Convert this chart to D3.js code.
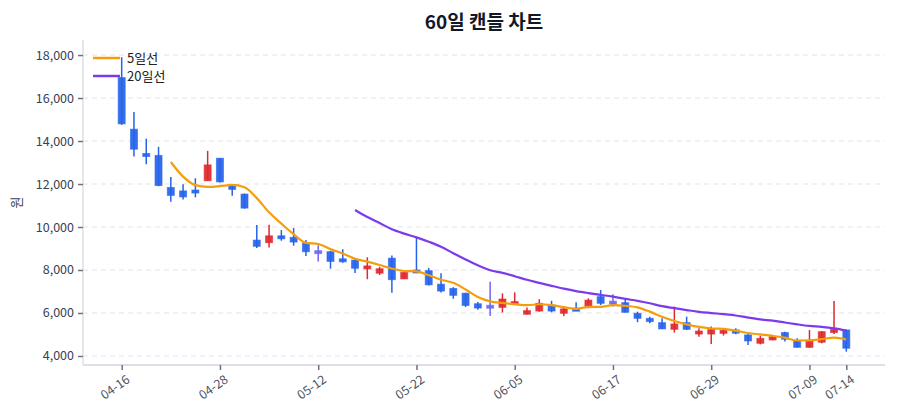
<!DOCTYPE html>
<html><head><meta charset="utf-8">
<script src="https://cdn.jsdelivr.net/npm/d3@7"></script>
<style>
body{margin:0;background:#fff;}
svg{display:block;font-family:"Noto Sans CJK KR","Noto Sans",sans-serif;}
</style></head>
<body><svg id="c" width="900" height="420"></svg>
<script>
const dates = ["04-16","04-17","04-18","04-21","04-22","04-23","04-24","04-25","04-28","04-29",
"04-30","05-01","05-02","05-07","05-08","05-09","05-12","05-13","05-14","05-15",
"05-16","05-19","05-20","05-21","05-22","05-23","05-26","05-27","05-28","05-29",
"05-30","06-02","06-05","06-06","06-09","06-10","06-11","06-12","06-13","06-16",
"06-17","06-18","06-19","06-20","06-23","06-24","06-25","06-26","06-29","06-30",
"07-01","07-02","07-03","07-04","07-07","07-08","07-09","07-10","07-11","07-14"];
const openV = [16950,14550,13420,13330,11840,11680,11720,12150,13200,11960,
11530,9390,9270,9590,9520,9250,8830,8850,8520,8460,
8060,7850,8550,7585,8000,7970,7340,7140,6920,6430,
6290,6260,6450,5940,6090,6370,5985,6220,6250,6760,
6480,6480,5985,5750,5550,5240,5550,5090,5020,5090,
5210,4980,4590,4745,5090,4710,4400,4640,5090,5210];
const highV = [17900,15350,14110,13730,12330,11990,12270,13540,13210,11990,
11560,10090,10100,9860,9950,9390,9150,8890,8970,8510,
8590,8150,8680,7900,9520,8090,7850,7200,6940,6510,
7450,6910,6960,6250,6640,6570,6300,6500,6680,7070,
6870,6640,6060,5830,5750,6300,5830,5290,5370,5290,
5290,5010,4950,4930,5130,4820,5210,5160,6560,5230];
const lowV = [14750,13280,12920,11900,11170,11280,11380,12150,12070,11450,
10850,9020,9050,9360,9130,8650,8390,8060,8340,7860,
7570,7770,6940,7580,7970,7280,6950,6660,6280,6150,
5860,6020,6400,5930,6060,6030,5860,6100,6220,6370,
6300,6020,5570,5520,5250,5090,5210,4900,4560,4950,
5010,4510,4540,4730,4670,4400,4400,4590,5020,4200];
const closeV = [14800,13620,13300,11930,11470,11400,11640,12890,12100,11750,
10880,9100,9590,9470,9300,8850,8830,8400,8440,8080,
8190,8060,7550,7890,7970,7310,7020,6820,6350,6230,
6290,6650,6530,6110,6450,6090,6190,6110,6600,6450,
6480,6030,5750,5600,5260,5490,5240,5160,5240,5190,
5060,4700,4820,4900,4780,4400,4710,5130,5240,4360];
const xTickLabels = ["04-16","04-28","05-12","05-22","06-05","06-17","06-29","07-09","07-14"];
const yTicks = [4000,6000,8000,10000,12000,14000,16000,18000];
const maPeriods = [5, 20];
const maNames = ["5일선","20일선"];
const titleText = "60일 캔들 차트";
const yLabel = "원";

const UP = "#e0282e", DOWN = "#2563eb", FLAT = "#6d68f0";
const maColors = ["#f59e0b", "#7c3aed"];
const L = 83, R = 885, T = 40, B = 365;
const FF = '"Noto Sans CJK KR","Noto Sans",sans-serif';

const svg = d3.select("#c");
const x = d3.scalePoint().domain(dates).range([L, R]).padding(3.15);
const y = d3.scaleLinear().domain([3580, 18700]).range([B, T]);

// grid
svg.append("g").selectAll("line").data(yTicks).join("line")
  .attr("x1", L).attr("x2", R).attr("y1", d => y(d)).attr("y2", d => y(d))
  .attr("stroke", "#e3e5ea").attr("stroke-dasharray", "5,4").attr("stroke-width", 1);

// axes
const yAxis = svg.append("g").attr("transform", `translate(${L},0)`)
  .call(d3.axisLeft(y).tickValues(yTicks).tickFormat(d3.format(",")).tickSize(5).tickPadding(4));
yAxis.select(".domain").attr("stroke", "#dcdfe5").attr("stroke-width", 1.5)
  .attr("d", `M0,${T}V${B}`);
yAxis.selectAll(".tick line").attr("stroke", "#6b7280").attr("stroke-width", 1.5);
yAxis.selectAll(".tick text").attr("fill", "#374151").style("font-size", "12.5px")
  .style("font-family", FF);

const xAxis = svg.append("g").attr("transform", `translate(0,${B})`)
  .call(d3.axisBottom(x).tickValues(xTickLabels).tickSize(5).tickPadding(6));
xAxis.select(".domain").attr("stroke", "#dcdfe5").attr("stroke-width", 2)
  .attr("d", `M${L},0H${R}`);
xAxis.selectAll(".tick line").attr("stroke", "#6b7280").attr("stroke-width", 1.5);
xAxis.selectAll(".tick text").attr("fill", "#4b5563").style("font-size", "12.5px")
  .style("font-family", FF)
  .attr("text-anchor", "end").attr("dx", "-0.2em").attr("dy", "0.6em")
  .attr("transform", "rotate(-35)");

// candles
const data = dates.map((d, i) => ({d, o: openV[i], h: highV[i], l: lowV[i], c: closeV[i]}));
const col = k => k.c > k.o ? UP : (k.c < k.o ? DOWN : FLAT);
const cg = svg.append("g");
cg.selectAll("line").data(data).join("line")
  .attr("x1", k => x(k.d)).attr("x2", k => x(k.d))
  .attr("y1", k => y(k.h)).attr("y2", k => y(k.l))
  .attr("stroke", col).attr("stroke-width", 1.5);
const bw = 7;
cg.selectAll("rect").data(data).join("rect")
  .attr("x", k => x(k.d) - bw / 2)
  .attr("y", k => Math.min(y(k.o), y(k.c)) - (k.o === k.c ? 1.5 : 0))
  .attr("width", bw)
  .attr("height", k => Math.max(3, Math.abs(y(k.o) - y(k.c))))
  .attr("fill", col).attr("fill-opacity", 0.92)
  .attr("stroke", col).attr("stroke-opacity", 0.6).attr("stroke-width", 1);

// moving averages
maPeriods.forEach((p, mi) => {
  const pts = [];
  for (let i = p - 1; i < closeV.length; i++) {
    pts.push([dates[i], d3.mean(closeV.slice(i - p + 1, i + 1))]);
  }
  svg.append("path").datum(pts)
    .attr("fill", "none").attr("stroke", maColors[mi]).attr("stroke-width", 2.2)
    .attr("stroke-linejoin", "round")
    .attr("d", d3.line().x(d => x(d[0])).y(d => y(d[1])).curve(d3.curveMonotoneX));
});

// legend
const lg = svg.append("g");
maNames.forEach((n, i) => {
  const yy = 58 + i * 18;
  lg.append("line").attr("x1", 93).attr("x2", 120).attr("y1", yy).attr("y2", yy)
    .attr("stroke", maColors[i]).attr("stroke-width", 2.5);
  lg.append("text").attr("x", 127).attr("y", yy).attr("dy", "0.35em")
    .attr("fill", "#222").style("font-size", "13px").text(n);
});

// title
svg.append("text").attr("x", (L + R) / 2).attr("y", 29).attr("text-anchor", "middle")
  .attr("fill", "#111827").style("font-size", "19px").style("font-weight", "bold").text(titleText);

// y label
svg.append("text").attr("transform", `translate(21,${(T + B) / 2}) rotate(-90)`)
  .attr("text-anchor", "middle").attr("fill", "#374151").style("font-size", "13px").text(yLabel);
</script></body></html>
